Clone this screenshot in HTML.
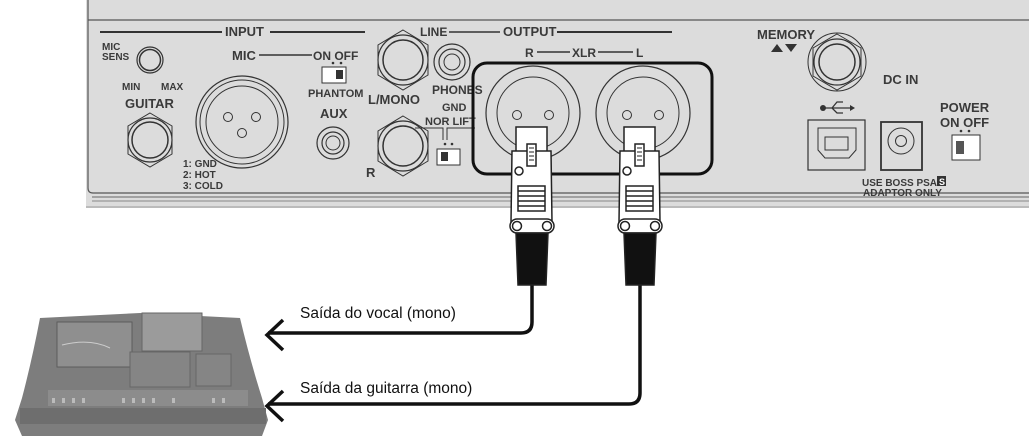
<!DOCTYPE html>
<html><head><meta charset="utf-8"><style>
html,body{margin:0;padding:0;background:#fff;width:1029px;height:441px;overflow:hidden}
svg{display:block}
.t{font-family:"Liberation Sans",Arial,sans-serif;font-weight:bold;fill:#3a3a3a}
</style></head><body>
<svg width="1029" height="441" viewBox="0 0 1029 441" xmlns="http://www.w3.org/2000/svg">
<rect x="86" y="0" width="945" height="208" fill="#dcdcdc"/>
<path d="M88 0 V188 Q88 193 93 193 H1031" fill="none" stroke="#555" stroke-width="1.2"/>
<line x1="88" y1="20" x2="1031" y2="20" stroke="#555" stroke-width="1.2"/>
<line x1="92" y1="197" x2="1031" y2="197" stroke="#666" stroke-width="1"/>
<line x1="92" y1="201" x2="1031" y2="201" stroke="#888" stroke-width="1"/>
<line x1="86" y1="207" x2="1031" y2="207" stroke="#bbb" stroke-width="2"/>

<g class="t" font-size="11">
<line x1="100" y1="32" x2="222" y2="32" stroke="#333" stroke-width="2"/>
<text x="225" y="36" font-size="13">INPUT</text>
<line x1="270" y1="32" x2="365" y2="32" stroke="#333" stroke-width="2"/>
<text x="102" y="50" font-size="10">MIC</text><text x="102" y="60" font-size="10">SENS</text>
<circle cx="150" cy="60" r="13" fill="none" stroke="#333" stroke-width="1.2"/>
<circle cx="150" cy="60" r="10.5" fill="none" stroke="#333" stroke-width="1.5"/>
<text x="122" y="90" font-size="10">MIN</text><text x="161" y="90" font-size="10">MAX</text>
<text x="125" y="108" font-size="13">GUITAR</text>
<polygon points="150,113 172,126 172,154 150,167 128,154 128,126" fill="none" stroke="#333"/>
<circle cx="150" cy="140" r="22" fill="none" stroke="#333" stroke-width="1.2"/>
<circle cx="150" cy="140" r="18" fill="none" stroke="#333" stroke-width="1.5"/>
<text x="232" y="60" font-size="13">MIC</text>
<line x1="259" y1="55" x2="312" y2="55" stroke="#333" stroke-width="1.5"/>
<text x="313" y="60" font-size="12">ON OFF</text>
<circle cx="333" cy="63" r="1.3" fill="#333"/><circle cx="341" cy="63" r="1.3" fill="#333"/>
<rect x="322" y="67" width="24" height="16" fill="#fff" stroke="#333"/>
<rect x="336" y="70" width="7" height="9" fill="#333"/>
<text x="308" y="97" font-size="11">PHANTOM</text>
<text x="320" y="118" font-size="13">AUX</text>
<circle cx="333" cy="143" r="16" fill="none" stroke="#333" stroke-width="1.2"/>
<circle cx="333" cy="143" r="11" fill="none" stroke="#333" stroke-width="1.2"/>
<circle cx="333" cy="143" r="7" fill="none" stroke="#333"/>
<circle cx="242" cy="122" r="46" fill="none" stroke="#333" stroke-width="1.2"/>
<circle cx="242" cy="122" r="42" fill="none" stroke="#333" stroke-width="1"/>
<circle cx="242" cy="122" r="36" fill="none" stroke="#333" stroke-width="1"/>
<circle cx="228" cy="117" r="4.5" fill="none" stroke="#333"/><circle cx="256" cy="117" r="4.5" fill="none" stroke="#333"/><circle cx="242" cy="133" r="4.5" fill="none" stroke="#333"/>
<text x="183" y="167" font-size="10">1: GND</text><text x="183" y="178" font-size="10">2: HOT</text><text x="183" y="189" font-size="10">3: COLD</text>
<polygon points="403,30 428,45 428,75 403,90 378,75 378,45" fill="none" stroke="#333"/>
<circle cx="403" cy="60" r="25" fill="none" stroke="#333" stroke-width="1.2"/>
<circle cx="403" cy="60" r="20" fill="none" stroke="#333" stroke-width="1.5"/>
<text x="368" y="104" font-size="13">L/MONO</text>
<polygon points="403,116 428,131 428,161 403,176 378,161 378,131" fill="none" stroke="#333"/>
<circle cx="403" cy="146" r="25" fill="none" stroke="#333" stroke-width="1.2"/>
<circle cx="403" cy="146" r="20" fill="none" stroke="#333" stroke-width="1.5"/>
<text x="366" y="177" font-size="13">R</text>
<text x="420" y="36" font-size="12">LINE</text>
<line x1="449" y1="32" x2="500" y2="32" stroke="#333" stroke-width="1.5"/>
<text x="503" y="36" font-size="13">OUTPUT</text>
<line x1="557" y1="32" x2="672" y2="32" stroke="#333" stroke-width="2"/>
<circle cx="452" cy="62" r="18" fill="none" stroke="#333" stroke-width="1.2"/>
<circle cx="452" cy="62" r="13" fill="none" stroke="#333" stroke-width="1.2"/>
<circle cx="452" cy="62" r="8" fill="none" stroke="#333"/>
<text x="432" y="94" font-size="12">PHONES</text>
<text x="442" y="111" font-size="11">GND</text>
<text x="425" y="125" font-size="11">NOR LIFT</text>
<path d="M415 128 H443 V140 M447 140 V128 H475" fill="none" stroke="#333"/>
<circle cx="445" cy="144" r="1.3" fill="#333"/><circle cx="452" cy="144" r="1.3" fill="#333"/>
<rect x="437" y="149" width="23" height="16" fill="#fff" stroke="#333"/>
<rect x="441" y="152" width="7" height="9" fill="#333"/>
<text x="525" y="57" font-size="12">R</text>
<line x1="537" y1="52" x2="570" y2="52" stroke="#333" stroke-width="1.5"/>
<text x="572" y="57" font-size="12">XLR</text>
<line x1="598" y1="52" x2="633" y2="52" stroke="#333" stroke-width="1.5"/>
<text x="636" y="57" font-size="12">L</text>
<rect x="473" y="63" width="239" height="111" rx="14" fill="none" stroke="#111" stroke-width="3"/>
<circle cx="533" cy="113" r="47" fill="none" stroke="#333" stroke-width="1.2"/>
<circle cx="533" cy="113" r="36" fill="none" stroke="#333"/>
<circle cx="517" cy="115" r="4.5" fill="none" stroke="#333"/><circle cx="549" cy="115" r="4.5" fill="none" stroke="#333"/>
<circle cx="643" cy="113" r="47" fill="none" stroke="#333" stroke-width="1.2"/>
<circle cx="643" cy="113" r="36" fill="none" stroke="#333"/>
<circle cx="627" cy="115" r="4.5" fill="none" stroke="#333"/><circle cx="659" cy="115" r="4.5" fill="none" stroke="#333"/>
<!-- right side -->
<text x="757" y="39" font-size="13">MEMORY</text>
<polygon points="771,52 777,44 783,52" fill="#333"/><polygon points="785,44 797,44 791,52" fill="#333"/>
<circle cx="837" cy="62" r="29" fill="none" stroke="#333" stroke-width="1"/>
<polygon points="837,34 861,48 861,76 837,90 813,76 813,48" fill="none" stroke="#333"/>
<circle cx="837" cy="62" r="23" fill="none" stroke="#333" stroke-width="1.2"/>
<circle cx="837" cy="62" r="18" fill="none" stroke="#333" stroke-width="1.5"/>
<text x="883" y="84" font-size="13">DC IN</text>
<circle cx="823" cy="108" r="3" fill="#333"/>
<path d="M823 108 H850 M832 108 L837 102 H843 M832 108 L837 113 H843" fill="none" stroke="#333" stroke-width="1.3"/>
<polygon points="850,105 855,108 850,111" fill="#333"/>
<rect x="808" y="120" width="57" height="50" fill="none" stroke="#333" stroke-width="1.2"/>
<path d="M818 128 H856 V150 L849 158 H825 L818 150 Z" fill="none" stroke="#333"/>
<rect x="825" y="137" width="23" height="13" fill="none" stroke="#333"/>
<rect x="881" y="122" width="41" height="48" fill="none" stroke="#333" stroke-width="1.8"/>
<circle cx="901" cy="141" r="13" fill="none" stroke="#333"/>
<circle cx="901" cy="141" r="5.5" fill="none" stroke="#333"/>
<text x="862" y="186" font-size="10">USE BOSS PSA</text>
<rect x="937" y="176" width="9" height="10" fill="#333"/>
<text x="939" y="185" font-size="9" style="fill:#fff">S</text>
<text x="863" y="196" font-size="10">ADAPTOR ONLY</text>
<text x="940" y="112" font-size="13">POWER</text>
<text x="940" y="127" font-size="13">ON OFF</text>
<circle cx="961" cy="131" r="1.3" fill="#333"/><circle cx="969" cy="131" r="1.3" fill="#333"/>
<rect x="952" y="135" width="28" height="25" fill="#fff" stroke="#333"/>
<rect x="956" y="141" width="8" height="13" fill="#555"/>
</g>

<path d="M532 280 V322 Q532 333 521 333 H268" fill="none" stroke="#111" stroke-width="3.5"/>
<path d="M283 320 L267 335 L283 350" fill="none" stroke="#111" stroke-width="3.5"/>
<path d="M640 280 V393 Q640 404 629 404 H268" fill="none" stroke="#111" stroke-width="3.5"/>
<path d="M283 391 L267 406 L283 421" fill="none" stroke="#111" stroke-width="3.5"/>

<g id="c1" stroke="#222" stroke-width="1.5">
<rect x="516" y="127" width="31" height="25" fill="#fff"/>
<path d="M512 151 H551 L552 222 H511 Z" fill="#fff"/>
<rect x="527" y="144" width="9" height="22" fill="#fff"/>
<path d="M529 148 H534 M529 152 H534 M529 156 H534 M529 160 H534" stroke-width="1"/>
<circle cx="519" cy="171" r="4" fill="#fff"/>
<rect x="518" y="186" width="27" height="25" fill="#fff"/>
<path d="M518 191 H545 M518 196 H545 M518 201 H545 M518 206 H545" stroke-width="1.6"/>
<rect x="510" y="219" width="44" height="14" rx="7" fill="#fff"/>
<circle cx="517" cy="226" r="4.5" fill="#fff"/><circle cx="547" cy="226" r="4.5" fill="#fff"/>
<path d="M516 233 H548 L546 285 H518 Z" fill="#111"/>
</g>
<use href="#c1" x="108"/>

<g>
<path d="M40 318 L140 313 L240 318 Q250 360 262 398 L268 420 L262 436 L22 436 L15 420 L22 398 Q32 360 40 318 Z" fill="#7d7d7d"/>
<rect x="142" y="313" width="60" height="38" fill="#9b9b9b" stroke="#666"/>
<rect x="57" y="322" width="75" height="45" fill="#8f8f8f" stroke="#5c5c5c"/>
<path d="M62 345 Q90 338 110 348" stroke="#ccc" fill="none"/>
<rect x="130" y="352" width="60" height="35" fill="#858585" stroke="#666"/>
<rect x="196" y="354" width="35" height="32" fill="#858585" stroke="#666"/>
<rect x="20" y="408" width="246" height="16" fill="#6e6e6e"/>
<rect x="48" y="390" width="200" height="16" fill="#8c8c8c"/>
<g fill="#bbb"><rect x="52" y="398" width="3" height="5"/><rect x="62" y="398" width="3" height="5"/><rect x="72" y="398" width="3" height="5"/><rect x="82" y="398" width="3" height="5"/><rect x="122" y="398" width="3" height="5"/><rect x="132" y="398" width="3" height="5"/><rect x="142" y="398" width="3" height="5"/><rect x="152" y="398" width="3" height="5"/><rect x="172" y="398" width="3" height="5"/><rect x="212" y="398" width="3" height="5"/><rect x="222" y="398" width="3" height="5"/></g>
</g>

<text x="300" y="318" font-family="'Liberation Sans',Arial,sans-serif" font-size="15.5" fill="#111">Saída do vocal (mono)</text>
<text x="300" y="393" font-family="'Liberation Sans',Arial,sans-serif" font-size="15.5" fill="#111">Saída da guitarra (mono)</text>
</svg>
</body></html>
